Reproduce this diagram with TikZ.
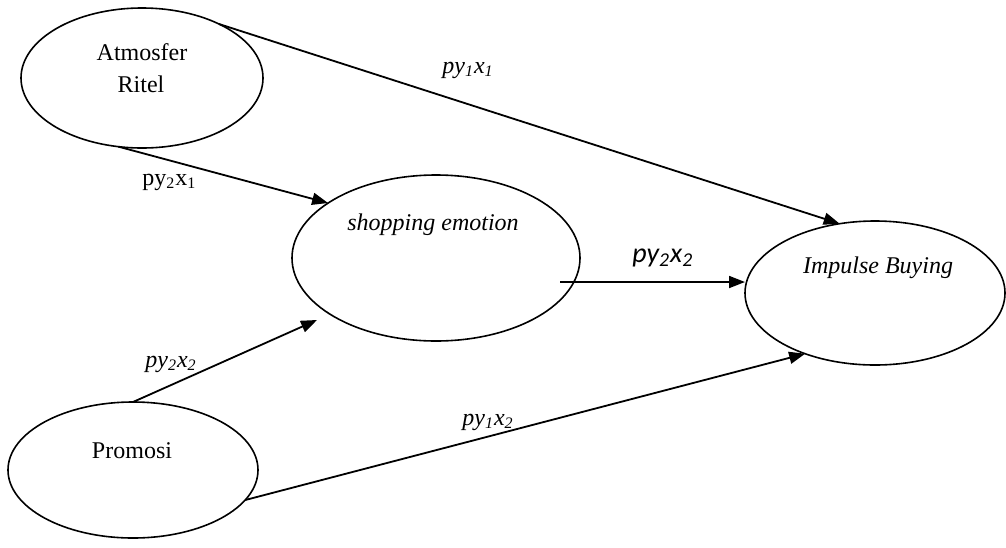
\documentclass[tikz,border=0pt]{standalone}
\usepackage{fontspec}
\setmainfont{Liberation Serif}
\newfontfamily\calibri{Carlito}
\usetikzlibrary{arrows.meta,shapes.geometric}
\begin{document}
\begin{tikzpicture}[x=0.5pt,y=-0.5pt,
  font=\fontsize{12}{14}\selectfont,
  var/.style={draw, ellipse, line width=0.8pt, inner sep=0pt, outer sep=0pt},
  txt/.style={inner sep=0pt, anchor=base},
  lbl/.style={inner sep=0pt, anchor=base west},
  conn/.style={draw, line width=0.9pt, -{Triangle[length=8pt,width=6pt]}}
]
\useasboundingbox (0,0) rectangle (1006,547);
\node[var, minimum width=121pt, minimum height=70pt] (atm) at (142,78) {};
\node[var, minimum width=144pt, minimum height=83pt] (shop) at (436,258) {};
\node[var, minimum width=130pt, minimum height=72pt] (imp) at (875,293) {};
\node[var, minimum width=125pt, minimum height=68pt] (pro) at (133,470) {};

\node[txt] (atmA) at (142,60) {Atmosfer};
\node[txt] (atmB) at (141,92) {Ritel};
\node[txt] (shopT) at (433,230) {\textit{shopping emotion}};
\node[txt] (impT) at (878,273) {\textit{Impulse Buying}};
\node[txt] (proT) at (132,458) {Promosi};

\node[lbl] (l1) at (442,73) {\textit{py\textsubscript{1}x\textsubscript{1}}};
\node[lbl] (l2) at (142,185) {py\textsubscript{2}x\textsubscript{1}};
\node[lbl] (l3) at (145,367) {\textit{py\textsubscript{2}x\textsubscript{2}}};
\node[lbl, font=\calibri\fontsize{14}{16}\selectfont] (l4) at (632,262) {\textit{py\textsubscript{2}x\textsubscript{2}}};
\node[lbl] (l5) at (462,425) {\textit{py\textsubscript{1}x\textsubscript{2}}};

\coordinate (s0) at (560,282);
\coordinate (e2) at (317,320);
\draw[conn] (atm.35) -- (imp.117);
\draw[conn] (atm.251) -- (shop.153);
\draw[conn] (s0) -- (imp.west |- s0);
\draw[conn] (pro.north) -- (e2);
\draw[conn] (pro.-15) -- (imp.221);
\end{tikzpicture}
\end{document}
